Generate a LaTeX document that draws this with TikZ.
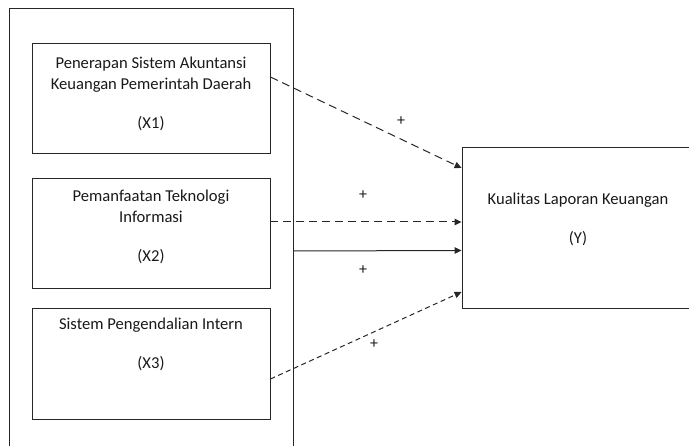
\documentclass[tikz,border=0pt]{standalone}
\usepackage{fontspec}
\setmainfont{Carlito}
\usetikzlibrary{arrows.meta}

\tikzset{
  varbox/.style={draw=black!85,line width=0.9pt,inner sep=0pt},
  vartext/.style={align=center,text=black!90,font=\fontsize{16.6}{21}\selectfont},
  sign/.style={text=black!90,font=\fontsize{16}{17}\selectfont,inner sep=0pt},
  link/.style={draw=black!85,line width=1pt,-{Triangle[length=7pt,width=6.5pt]}},
}

\begin{document}
\begin{tikzpicture}[x=1pt,y=-1pt]
      \useasboundingbox (0,0) rectangle (689,446);
      \clip (0,0) rectangle (689,446);
      %% Boxes
      \node[varbox,minimum width=284pt,minimum height=462pt] (outer) at (151,239) {};
      \node[varbox,minimum width=238pt,minimum height=110pt] (x1) at (151,98) {};
      \node[varbox,minimum width=238pt,minimum height=110pt] (x2) at (151,233) {};
      \node[varbox,minimum width=238pt,minimum height=111pt] (x3) at (151,363.5) {};
      \node[varbox,minimum width=232pt,minimum height=161pt] (y) at (578,227.5) {};
      %% Texts
      \node[vartext] (x1t) at (151,94) {Penerapan Sistem Akuntansi\\Keuangan Pemerintah Daerah\\[18pt](X1)};
      \node[vartext] (x2t) at (151,227) {Pemanfaatan Teknologi\\Informasi\\[18pt](X2)};
      \node[vartext] (x3t) at (151,344.5) {Sistem Pengendalian Intern\\[18pt](X3)};
      \node[vartext] (yt) at (578,219.5) {Kualitas Laporan Keuangan\\[18pt](Y)};
      %% Arrows
      \draw[link,dash pattern=on 8pt off 5pt] ([yshift=21pt]x1.east) -- ([yshift=59.5pt]y.west);
      \draw[link,dash pattern=on 8pt off 5pt] ([yshift=11pt]x2.east) -- ([yshift=5.5pt]y.west);
      \draw[link] ([yshift=-12pt]outer.east) -- ([yshift=-23pt]y.west);
      \draw[link,dash pattern=on 5pt off 3.5pt] ([yshift=-15.5pt]x3.east) -- ([yshift=-64.5pt]y.west);
      %% Signs
      \node[sign] (s1) at (401,121) {+};
      \node[sign] (s2) at (363,195) {+};
      \node[sign] (s3) at (363,270) {+};
      \node[sign] (s4) at (374,344) {+};
    \end{tikzpicture}
\end{document}
